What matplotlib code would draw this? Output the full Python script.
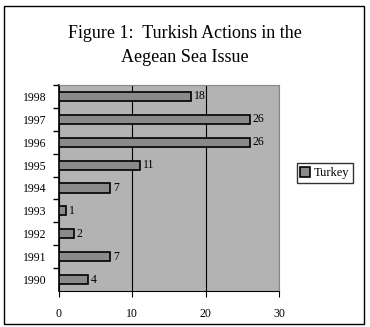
import matplotlib as mpl
mpl.use('Agg')
from matplotlib import pyplot as plt
from matplotlib.patches import Rectangle

years = ['1990', '1991', '1992', '1993', '1994', '1995', '1996', '1997', '1998']
actions = [4, 7, 2, 1, 7, 11, 26, 26, 18]
series = 'Turkey'

plt.rcParams['font.family'] = ['Liberation Serif', 'DejaVu Serif']

fig = plt.figure(figsize=(3.7, 3.27), dpi=100)
fig.patches.append(Rectangle((0.01, 0.008), 0.975, 0.975, transform=fig.transFigure,
                             fill=False, edgecolor='black', lw=1.0))

ax = fig.add_axes([59 / 370, 1 - 291 / 327, 220 / 370, 206 / 327])
ax.set_facecolor('#b3b3b3')

pos = list(range(len(years)))
ax.barh(pos, actions, height=0.4, color='#8a8a8a', edgecolor='black', lw=1.2,
        label=series, zorder=3)
for p, v in zip(pos, actions):
    ax.text(v + 0.4, p, str(v), va='center', ha='left', fontsize=8.5, zorder=4)

ax.set_xlim(0, 30)
ax.set_ylim(-0.5, len(years) - 0.5)
ax.set_xticks([0, 10, 20, 30])
ax.set_yticks(pos)
ax.set_yticklabels(years)
ax.set_yticks([p - 0.5 for p in pos[1:]] + [len(years) - 0.5], minor=True)
ax.tick_params(axis='y', which='major', length=0, labelsize=8.5, pad=9)
ax.tick_params(axis='y', which='minor', length=4, width=1)
ax.tick_params(axis='x', labelsize=8.5, length=4, pad=8)
ax.grid(axis='x', color='black', lw=0.8, zorder=1)
for s in ['top', 'right']:
    ax.spines[s].set_color('#888888')
ax.spines['left'].set_linewidth(1.2)

fig.text(0.5, 1 - 34 / 327, 'Figure 1:  Turkish Actions in the', ha='center', va='center', fontsize=13)
fig.text(0.5, 1 - 58 / 327, 'Aegean Sea Issue', ha='center', va='center', fontsize=13)

fig.legend(loc='center', bbox_to_anchor=(325 / 370, 1 - 173 / 327), fontsize=9, frameon=True,
           fancybox=False, edgecolor='black', handlelength=0.8, handleheight=0.8,
           handletextpad=0.3, borderpad=0.3, borderaxespad=0)

fig.savefig('out.png', dpi=100)
